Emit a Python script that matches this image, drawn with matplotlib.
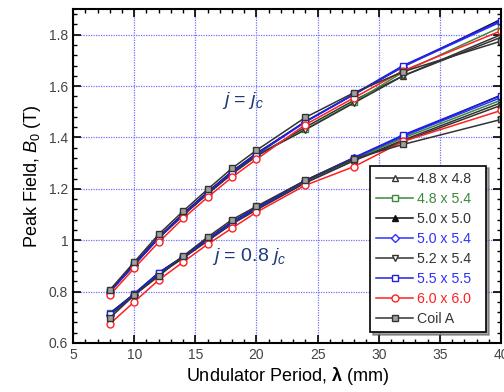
import matplotlib.pyplot as plt
from matplotlib.ticker import MultipleLocator

plt.rcParams['font.family'] = ['Liberation Sans', 'DejaVu Sans']
plt.rcParams['mathtext.fontset'] = 'custom'
plt.rcParams['mathtext.rm'] = 'Liberation Sans'
plt.rcParams['mathtext.it'] = 'Liberation Sans:italic'
plt.rcParams['mathtext.bf'] = 'Liberation Sans:bold'

period = [8, 10, 12, 14, 16, 18, 20, 24, 28, 32, 40]

labels = ['4.8 x 4.8', '4.8 x 5.4', '5.0 x 5.0', '5.0 x 5.4',
          '5.2 x 5.4', '5.5 x 5.5', '6.0 x 6.0', 'Coil A']

# peak field at j = jc
b_full = {
    '4.8 x 4.8': [0.800, 0.904, 1.008, 1.097, 1.180, 1.258, 1.327, 1.440, 1.545, 1.640, 1.790],
    '4.8 x 5.4': [0.802, 0.906, 1.010, 1.100, 1.183, 1.262, 1.331, 1.432, 1.538, 1.655, 1.830],
    '5.0 x 5.0': [0.803, 0.908, 1.013, 1.103, 1.188, 1.268, 1.338, 1.462, 1.568, 1.675, 1.860],
    '5.0 x 5.4': [0.798, 0.903, 1.008, 1.098, 1.183, 1.263, 1.333, 1.460, 1.568, 1.676, 1.850],
    '5.2 x 5.4': [0.801, 0.905, 1.009, 1.098, 1.181, 1.259, 1.329, 1.430, 1.535, 1.640, 1.800],
    '5.5 x 5.5': [0.800, 0.905, 1.010, 1.100, 1.185, 1.265, 1.335, 1.462, 1.570, 1.680, 1.855],
    '6.0 x 6.0': [0.786, 0.891, 0.992, 1.085, 1.167, 1.245, 1.315, 1.450, 1.555, 1.660, 1.815],
    'Coil A':    [0.806, 0.915, 1.023, 1.113, 1.198, 1.280, 1.350, 1.478, 1.575, 1.656, 1.775],
}

# peak field at j = 0.8 jc
b_low = {
    '4.8 x 4.8': [0.710, 0.787, 0.868, 0.932, 0.999, 1.065, 1.120, 1.225, 1.312, 1.390, 1.535],
    '4.8 x 5.4': [0.717, 0.790, 0.871, 0.934, 1.002, 1.068, 1.123, 1.228, 1.316, 1.398, 1.545],
    '5.0 x 5.0': [0.714, 0.792, 0.874, 0.937, 1.005, 1.072, 1.127, 1.233, 1.322, 1.405, 1.565],
    '5.0 x 5.4': [0.710, 0.788, 0.870, 0.933, 1.001, 1.068, 1.123, 1.230, 1.320, 1.405, 1.555],
    '5.2 x 5.4': [0.708, 0.786, 0.866, 0.930, 0.997, 1.063, 1.118, 1.223, 1.310, 1.385, 1.525],
    '5.5 x 5.5': [0.712, 0.790, 0.872, 0.935, 1.003, 1.070, 1.125, 1.232, 1.322, 1.410, 1.563],
    '6.0 x 6.0': [0.674, 0.760, 0.845, 0.915, 0.984, 1.047, 1.109, 1.214, 1.287, 1.385, 1.505],
    'Coil A':    [0.697, 0.786, 0.860, 0.938, 1.012, 1.080, 1.132, 1.233, 1.318, 1.373, 1.470],
}

styles = {
    '4.8 x 4.8': dict(color='#333333', marker='^', mfc='white'),
    '4.8 x 5.4': dict(color='#3a8a3a', marker='s', mfc='white'),
    '5.0 x 5.0': dict(color='#111111', marker='^', mfc='#111111'),
    '5.0 x 5.4': dict(color='#3030ff', marker='D', mfc='white'),
    '5.2 x 5.4': dict(color='#333333', marker='v', mfc='white'),
    '5.5 x 5.5': dict(color='#2020e0', marker='s', mfc='white'),
    '6.0 x 6.0': dict(color='#ff2020', marker='o', mfc='white'),
    'Coil A':    dict(color='#333333', marker='s', mfc='#a0a0a0'),
}
text_colors = {'4.8 x 5.4': '#3a8a3a', '5.0 x 5.4': '#3030ff',
               '5.5 x 5.5': '#3030ff', '6.0 x 6.0': '#ff2020'}

fig = plt.figure(figsize=(5.04, 3.92), dpi=100)
ax = fig.add_axes([0.145, 0.125, 0.849, 0.852])

for name in labels:
    st = styles[name]
    ms = 4.2 if st['marker'] == 'D' else 5
    ax.plot(period, b_full[name], color=st['color'], marker=st['marker'],
            mfc=st['mfc'], mec=st['color'], ms=ms, lw=1.1, label=name)
    ax.plot(period, b_low[name], color=st['color'], marker=st['marker'],
            mfc=st['mfc'], mec=st['color'], ms=ms, lw=1.1)

ax.set_xlim(5, 40)
ax.set_ylim(0.6, 1.9)
ax.xaxis.set_major_locator(MultipleLocator(5))
ax.xaxis.set_minor_locator(MultipleLocator(1))
ax.yaxis.set_minor_locator(MultipleLocator(0.04))
ax.set_yticks([0.6, 0.8, 1.0, 1.2, 1.4, 1.6, 1.8])
ax.set_yticklabels(['0.6', '0.8', '1', '1.2', '1.4', '1.6', '1.8'])
ax.tick_params(which='both', direction='in', top=True, right=True,
               labelsize=10, labelcolor='#444444')
ax.tick_params(which='major', length=6, width=1.2)
ax.tick_params(which='minor', length=3, width=1)
for sp in ax.spines.values():
    sp.set_linewidth(1.5)
ax.grid(True, which='major', color='#7070ff', linestyle=(0, (1, 1)), linewidth=0.9)
ax.set_axisbelow(True)

ax.set_xlabel(r'Undulator Period, $\boldsymbol{\lambda}$ (mm)', fontsize=13, labelpad=2)
ax.set_ylabel(r'Peak Field, $B_0$ (T)', fontsize=13, labelpad=4)

ax.text(17.2, 1.543, r'$j$ = $j_c$', fontsize=14, color='#1f3a7a', va='center')
ax.text(16.4, 0.938, r'$j$ = 0.8 $j_c$', fontsize=14, color='#1f3a7a', va='center')

leg = ax.legend(loc='lower left', bbox_to_anchor=(0.694, 0.033, 0.271, 0.52),
                mode='expand', fontsize=10.2, frameon=True, fancybox=False,
                shadow=True, edgecolor='black', handlelength=2.6,
                labelspacing=0.42, borderpad=0.45, handletextpad=0.3,
                borderaxespad=0)
leg.get_frame().set_linewidth(1.2)
for txt, name in zip(leg.get_texts(), labels):
    txt.set_color(text_colors.get(name, '#333333'))

plt.savefig('out.png', dpi=100)
